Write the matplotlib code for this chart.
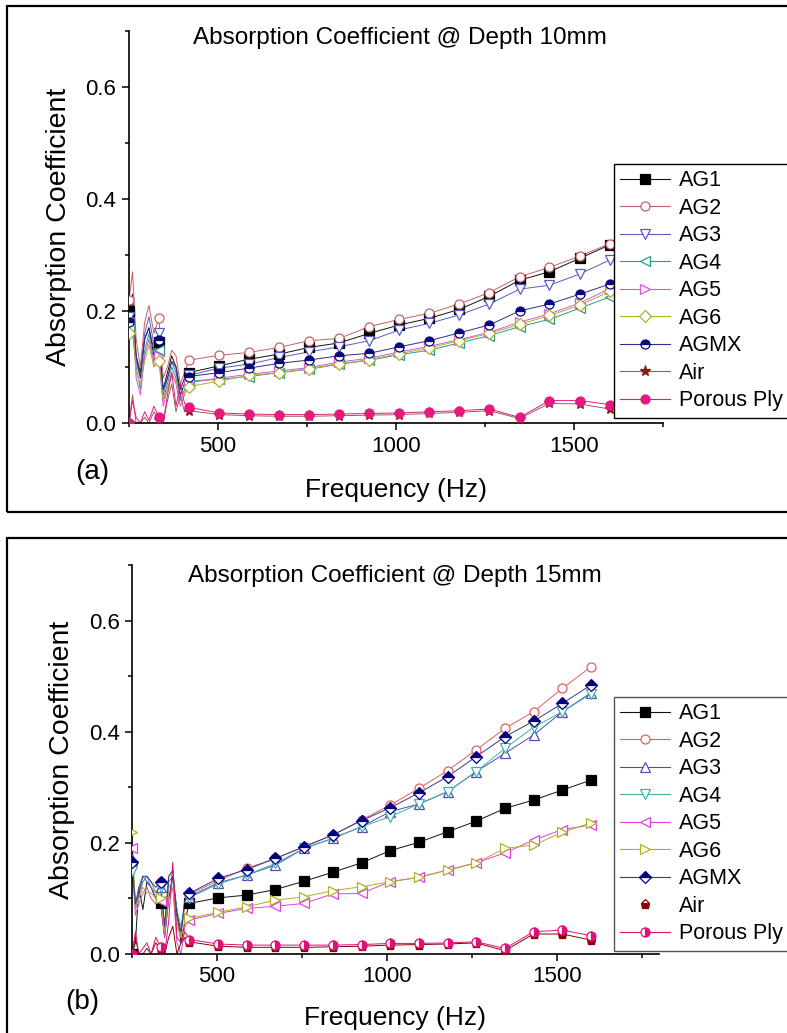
import numpy as np
import matplotlib
matplotlib.use("Agg")
import matplotlib.pyplot as plt
from matplotlib.patches import Rectangle
from matplotlib.ticker import MultipleLocator, FormatStrFormatter
from matplotlib.lines import Line2D

plt.rcParams['font.family'] = ['Liberation Sans', 'DejaVu Sans']

# frequency points of the traces (Hz); markers sit on every 84 Hz step
freq = [250, 260, 270, 282, 294, 306, 320, 334, 346, 358, 370, 382, 394, 406, 418,
        503, 587, 672, 756, 840, 925, 1009, 1094, 1178, 1262, 1347, 1431, 1516, 1600]
marker_freq = [250, 334, 418, 503, 587, 672, 756, 840, 925, 1009, 1094, 1178,
               1262, 1347, 1431, 1516, 1600]

labels = ['AG1', 'AG2', 'AG3', 'AG4', 'AG5', 'AG6', 'AGMX', 'Air', 'Porous Ply']

# depth 10 mm
a_ag1 = [0.20, 0.23, 0.12, 0.09, 0.15, 0.17, 0.12, 0.145, 0.06, 0.09, 0.12, 0.10, 0.06, 0.08, 0.09,
         0.102, 0.114, 0.123, 0.135, 0.143, 0.160, 0.175, 0.187, 0.203, 0.226, 0.255, 0.270, 0.294, 0.318]
a_ag2 = [0.22, 0.27, 0.15, 0.10, 0.18, 0.21, 0.16, 0.187, 0.08, 0.10, 0.13, 0.12, 0.07, 0.09, 0.112,
         0.121, 0.126, 0.135, 0.147, 0.151, 0.172, 0.185, 0.196, 0.2125, 0.233, 0.261, 0.278, 0.298, 0.320]
a_ag3 = [0.19, 0.21, 0.11, 0.08, 0.16, 0.19, 0.14, 0.16, 0.05, 0.08, 0.11, 0.09, 0.05, 0.07, 0.085,
         0.098, 0.105, 0.117, 0.127, 0.136, 0.147, 0.166, 0.178, 0.193, 0.2125, 0.239, 0.246, 0.266, 0.291]
a_ag4 = [0.17, 0.16, 0.10, 0.06, 0.13, 0.16, 0.11, 0.13, 0.04, 0.07, 0.10, 0.08, 0.04, 0.06, 0.075,
         0.078, 0.083, 0.090, 0.096, 0.105, 0.112, 0.122, 0.130, 0.143, 0.156, 0.172, 0.185, 0.205, 0.225]
a_ag5 = [0.18, 0.20, 0.08, 0.05, 0.12, 0.15, 0.10, 0.12, 0.03, 0.06, 0.09, 0.07, 0.03, 0.05, 0.072,
         0.080, 0.087, 0.093, 0.099, 0.109, 0.1155, 0.127, 0.137, 0.149, 0.162, 0.180, 0.195, 0.214, 0.240]
a_ag6 = [0.16, 0.19, 0.09, 0.07, 0.11, 0.14, 0.10, 0.11, 0.04, 0.06, 0.085, 0.075, 0.045, 0.055, 0.065,
         0.075, 0.085, 0.090, 0.097, 0.106, 0.113, 0.124, 0.134, 0.147, 0.160, 0.176, 0.192, 0.210, 0.235]
a_agmx = [0.18, 0.22, 0.12, 0.08, 0.15, 0.17, 0.13, 0.148, 0.06, 0.08, 0.11, 0.10, 0.05, 0.07, 0.083,
          0.090, 0.098, 0.1065, 0.1125, 0.120, 0.1245, 0.136, 0.147, 0.161, 0.175, 0.200, 0.2125, 0.230, 0.248]
a_air = [0.0, 0.05, 0.0, 0.0, 0.01, 0.0, 0.02, 0.005, 0.0, 0.04, 0.07, 0.02, 0.05, 0.02, 0.022,
         0.015, 0.013, 0.012, 0.012, 0.013, 0.014, 0.015, 0.017, 0.019, 0.022, 0.008, 0.035, 0.034, 0.025]
a_porous = [0.0, 0.04, 0.01, 0.0, 0.02, 0.005, 0.03, 0.01, 0.0, 0.05, 0.09, 0.03, 0.07, 0.035, 0.028,
            0.018, 0.016, 0.015, 0.015, 0.016, 0.017, 0.018, 0.020, 0.022, 0.025, 0.010, 0.040, 0.040, 0.033]

# depth 15 mm
b_ag1 = [0.0, 0.02, 0.12, 0.08, 0.13, 0.12, 0.10, 0.091, 0.03, 0.10, 0.14, 0.08, 0.02, 0.06, 0.091,
         0.101, 0.106, 0.116, 0.131, 0.147, 0.164, 0.186, 0.201, 0.220, 0.239, 0.262, 0.277, 0.295, 0.313]
b_ag2 = [0.16, 0.10, 0.10, 0.13, 0.14, 0.13, 0.11, 0.13, 0.04, 0.14, 0.15, 0.06, 0.03, 0.09, 0.107,
         0.132, 0.154, 0.172, 0.193, 0.214, 0.241, 0.268, 0.298, 0.330, 0.367, 0.406, 0.436, 0.478, 0.517]
b_ag3 = [0.17, 0.09, 0.12, 0.14, 0.13, 0.12, 0.10, 0.12, 0.05, 0.13, 0.14, 0.07, 0.04, 0.10, 0.103,
         0.128, 0.142, 0.160, 0.190, 0.208, 0.229, 0.256, 0.270, 0.292, 0.328, 0.361, 0.394, 0.436, 0.470]
b_ag4 = [0.15, 0.08, 0.11, 0.13, 0.14, 0.12, 0.11, 0.12, 0.04, 0.12, 0.13, 0.08, 0.05, 0.09, 0.101,
         0.126, 0.142, 0.163, 0.190, 0.208, 0.229, 0.247, 0.270, 0.292, 0.328, 0.370, 0.408, 0.436, 0.468]
b_ag5 = [0.19, 0.07, 0.09, 0.11, 0.12, 0.10, 0.09, 0.095, 0.03, 0.10, 0.12, 0.02, 0.0, 0.05, 0.061,
         0.073, 0.082, 0.086, 0.091, 0.108, 0.109, 0.130, 0.138, 0.151, 0.164, 0.182, 0.205, 0.224, 0.232]
b_ag6 = [0.22, 0.08, 0.10, 0.12, 0.11, 0.11, 0.10, 0.10, 0.04, 0.11, 0.12, 0.05, 0.03, 0.06, 0.064,
         0.075, 0.085, 0.097, 0.103, 0.114, 0.121, 0.130, 0.138, 0.151, 0.164, 0.190, 0.196, 0.219, 0.236]
b_agmx = [0.165, 0.09, 0.11, 0.14, 0.14, 0.13, 0.12, 0.13, 0.05, 0.14, 0.15, 0.07, 0.04, 0.10, 0.109,
          0.136, 0.152, 0.172, 0.193, 0.214, 0.240, 0.263, 0.290, 0.319, 0.355, 0.391, 0.419, 0.451, 0.484]
b_air = [0.0, 0.03, 0.0, 0.0, 0.01, 0.0, 0.02, 0.009, 0.0, 0.03, 0.05, 0.0, 0.02, 0.03, 0.022,
         0.014, 0.012, 0.012, 0.012, 0.013, 0.014, 0.016, 0.017, 0.018, 0.020, 0.006, 0.036, 0.036, 0.025]
b_porous = [0.0, 0.04, 0.0, 0.01, 0.02, 0.0, 0.03, 0.012, 0.0, 0.06, 0.165, 0.03, 0.02, 0.04, 0.026,
            0.018, 0.016, 0.016, 0.016, 0.016, 0.017, 0.019, 0.019, 0.020, 0.022, 0.010, 0.040, 0.043, 0.033]

series_a = [a_ag1, a_ag2, a_ag3, a_ag4, a_ag5, a_ag6, a_agmx, a_air, a_porous]
series_b = [b_ag1, b_ag2, b_ag3, b_ag4, b_ag5, b_ag6, b_agmx, b_air, b_porous]

# line colour, marker, face, alt face, fillstyle
style_a = [
    ('#111111', 's', '#000000', 'none', 'full'),
    ('#c96060', 'o', 'white', 'none', 'full'),
    ('#5b5bc8', 'v', 'white', 'none', 'full'),
    ('#2a9a8a', '<', 'white', 'none', 'full'),
    ('#e050e0', '>', 'white', 'none', 'full'),
    ('#b0b030', 'D', 'white', 'none', 'full'),
    ('#2c2c8c', 'o', '#0a0a80', 'white', 'top'),
    ('#a05a5a', '*', '#8b1a1a', 'none', 'full'),
    ('#e6197f', 'o', '#e6197f', 'none', 'full'),
]
style_b = [
    ('#111111', 's', '#000000', 'none', 'full'),
    ('#e06060', 'o', 'white', 'none', 'full'),
    ('#5050b0', '^', 'white', 'none', 'full'),
    ('#40b0b0', 'v', 'white', 'none', 'full'),
    ('#e040e0', '<', 'white', 'none', 'full'),
    ('#b0b020', '>', 'white', 'none', 'full'),
    ('#3c3c80', 'D', '#000080', 'white', 'top'),
    ('#8b0000', 'p', '#8b0000', 'white', 'bottom'),
    ('#e0107a', 'o', '#e0107a', 'white', 'right'),
]

W, H = 787, 1033
fig = plt.figure(figsize=(W / 100, H / 100), dpi=100)


def px_axes(x0, x1, ytop, ybot):
    return [x0 / W, 1 - ybot / H, (x1 - x0) / W, (ybot - ytop) / H]


def draw_panel(rect, series, styles, xmax, title, title_xy, tag, tag_xy, ylab_x, xlab_y, legend_xy, legend_edge):
    ax = fig.add_axes(rect)
    handles = []
    for vals, lab, (col, mk, fc, fca, fs) in zip(series, labels, styles):
        ax.plot(freq, vals, color=col, lw=0.7, zorder=2)
        mvals = [v for f, v in zip(freq, vals) if f in marker_freq]
        mec = col if fc == 'white' else fc
        ms = 8 if mk == '*' else 6.5
        ax.plot(marker_freq, mvals, ls='none', marker=mk, ms=ms,
                mfc=fc, mfcalt=fca if fca != 'none' else fc, fillstyle=fs,
                mec=mec, mew=0.9, zorder=3)
        show_line = not (lab == 'Air' and legend_edge != 'black')
        handles.append(Line2D([], [], color=col, lw=0.8 if show_line else 0,
                              marker=mk, ms=ms, mfc=fc,
                              mfcalt=fca if fca != 'none' else fc, fillstyle=fs,
                              mec=mec, mew=0.9, label=lab))
    ax.set_xlim(250, xmax)
    ax.set_ylim(0, 0.7)
    ax.xaxis.set_major_locator(MultipleLocator(500))
    ax.xaxis.set_minor_locator(MultipleLocator(250))
    ax.yaxis.set_major_locator(MultipleLocator(0.2))
    ax.yaxis.set_minor_locator(MultipleLocator(0.1))
    ax.yaxis.set_major_formatter(FormatStrFormatter('%.1f'))
    ax.set_xticks([500, 1000, 1500])
    for s in ('top', 'right'):
        ax.spines[s].set_visible(False)
    for s in ('left', 'bottom'):
        ax.spines[s].set_linewidth(1.2)
    ax.tick_params(which='major', direction='out', length=5, width=1.1, labelsize=16, pad=4)
    ax.tick_params(which='minor', direction='out', length=3, width=1.1)
    ax.set_xlabel('Frequency (Hz)', fontsize=19)
    ax.set_ylabel('Absorption Coefficient', fontsize=20.5)
    ax.xaxis.set_label_coords(0.5, xlab_y)
    ax.yaxis.set_label_coords(ylab_x, 0.5)
    ax.text(title_xy[0], title_xy[1], title, transform=ax.transAxes,
            fontsize=17.5, ha='left', va='center')
    ax.text(tag_xy[0], tag_xy[1], tag, transform=ax.transAxes,
            fontsize=20, ha='center', va='center', clip_on=False)
    leg = fig.legend(handles=handles, loc='upper left',
                     bbox_to_anchor=(legend_xy[0] / W, 1 - legend_xy[1] / H),
                     borderaxespad=0, fontsize=15.5, handlelength=2.3,
                     handletextpad=0.4, labelspacing=0.3, borderpad=0.3,
                     fancybox=False, framealpha=1, edgecolor=legend_edge)
    leg.get_frame().set_linewidth(1.0)
    return ax


# outer frames around each panel
fig.add_artist(Rectangle((7 / W, 1 - 512 / H), 800 / W, 506 / H, transform=fig.transFigure,
                         fill=False, ec='black', lw=1.6))
fig.add_artist(Rectangle((7 / W, 1 - 1045 / H), 800 / W, 507 / H, transform=fig.transFigure,
                         fill=False, ec='black', lw=1.6))

draw_panel(px_axes(129, 663, 31, 423), series_a, style_a, 1750,
           'Absorption Coefficient @ Depth 10mm', (0.12, 0.982),
           '(a)', (-0.069, -0.125), -0.107, -0.14, (614, 164), 'black')
draw_panel(px_axes(132, 659, 565, 954), series_b, style_b, 1800,
           'Absorption Coefficient @ Depth 15mm', (0.107, 0.972),
           '(b)', (-0.095, -0.123), -0.109, -0.133, (614, 697), '#555555')

fig.savefig('out.png', dpi=100)
